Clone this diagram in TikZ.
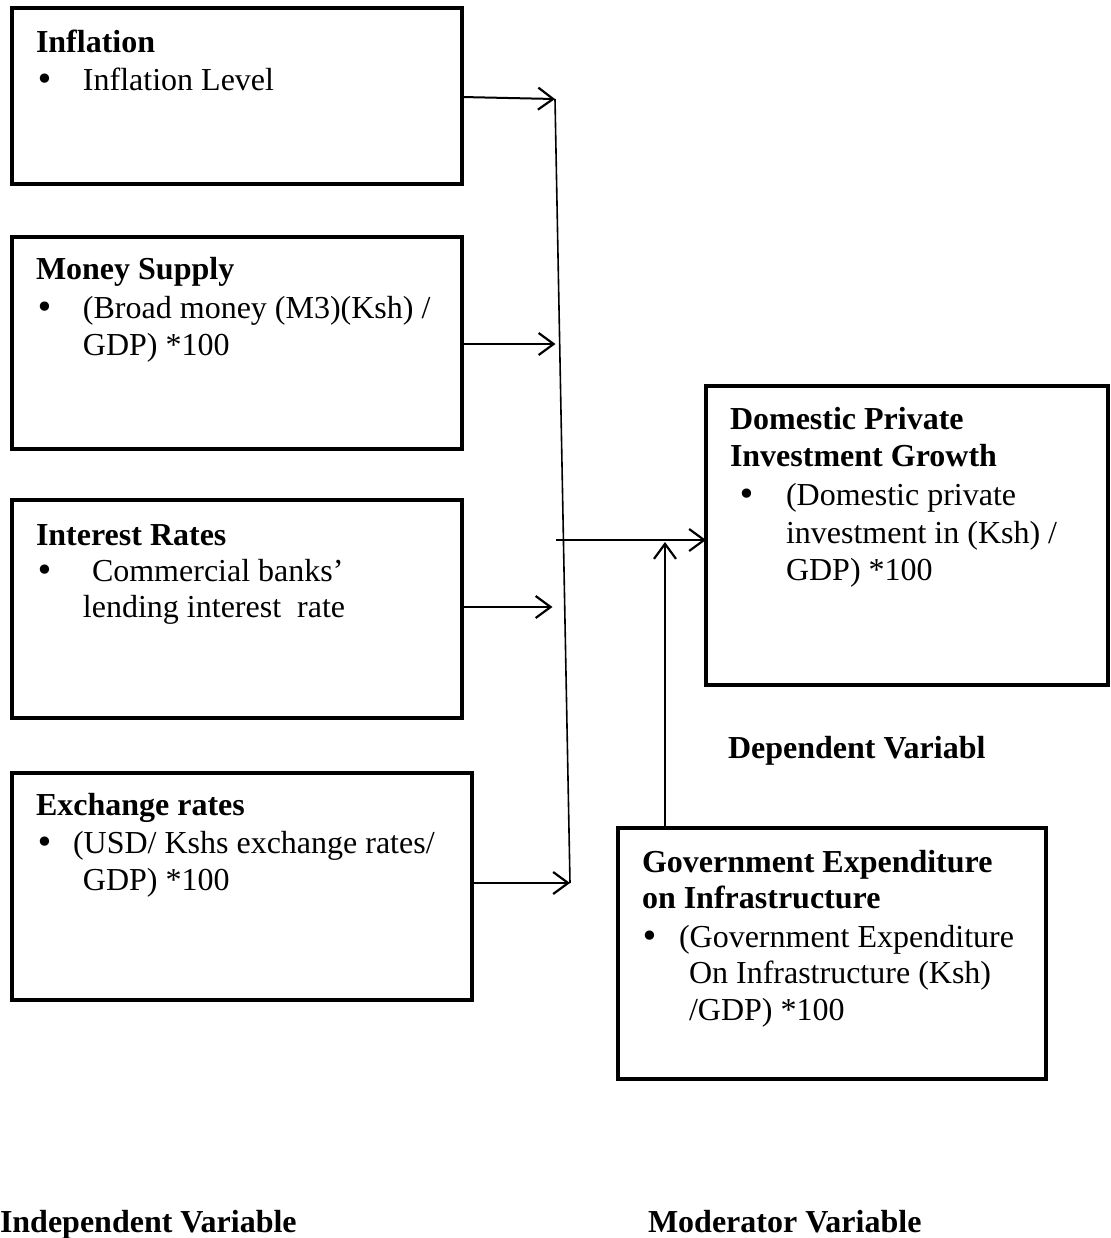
\documentclass[tikz,border=0pt]{standalone}
\usepackage{fontspec}
\setmainfont{Liberation Serif}
\newfontfamily\bulletfont{DejaVu Sans}
\usetikzlibrary{arrows.meta}
\newcommand{\bul}{{\bulletfont •}}
\begin{document}
\begin{tikzpicture}[x=0.5pt,y=-0.5pt,
  varbox/.style={draw=black,line width=2.4pt,rectangle,inner sep=0pt,outer sep=0pt},
  txt/.style={inner sep=0pt,outer sep=0pt,anchor=base west,font=\fontsize{16}{18}\selectfont},
  ttl/.style={txt,font=\fontsize{16}{18}\selectfont\bfseries},
  arr/.style={line width=1pt,-{Straight Barb[length=7.5pt,width=11pt,line width=1.1pt]}},
  trunk/.style={line width=0.8pt}]
\useasboundingbox (0,0) rectangle (1111,1238);

% boxes
\node[varbox,minimum width=225pt,minimum height=88pt] (b1) at (237,96) {};
\node[varbox,minimum width=225pt,minimum height=106pt] (b2) at (237,343) {};
\node[varbox,minimum width=225pt,minimum height=109pt] (b3) at (237,609) {};
\node[varbox,minimum width=230pt,minimum height=113.5pt] (b4) at (242,886.5) {};
\node[varbox,minimum width=201pt,minimum height=149.5pt] (dpi) at (907,535.5) {};
\node[varbox,minimum width=214pt,minimum height=125.5pt] (gov) at (832,953.5) {};

% texts box 1
\node[ttl] (t1a) at (36,52) {Inflation};
\node[txt] (t1b) at (35,90) {\bul};
\node[txt] (t1c) at (83,90) {Inflation Level};
% box 2
\node[ttl] (t2a) at (36,279) {Money Supply};
\node[txt] (t2b) at (35,318) {\bul};
\node[txt] (t2c) at (83,318) {(Broad money (M3)(Ksh) /};
\node[txt] (t2d) at (83,355) {GDP) *100};
% box 3
\node[ttl] (t3a) at (36,545) {Interest Rates};
\node[txt] (t3b) at (35,581) {\bul};
\node[txt] (t3c) at (92,581) {Commercial banks’};
\node[txt] (t3d) at (83,617) {lending interest\ \ rate};
% box 4
\node[ttl] (t4a) at (36,815) {Exchange rates};
\node[txt] (t4b) at (35,853) {\bul};
\node[txt] (t4c) at (73,853) {(USD/ Kshs exchange rates/};
\node[txt] (t4d) at (83,890) {GDP) *100};
% dependent box
\node[ttl] (t5a) at (730,429) {Domestic Private};
\node[ttl] (t5b) at (730,466) {Investment Growth};
\node[txt] (t5c) at (737,505) {\bul};
\node[txt] (t5d) at (786,505) {(Domestic private};
\node[txt] (t5e) at (786,543) {investment in (Ksh) /};
\node[txt] (t5f) at (786,580) {GDP) *100};
% moderator box
\node[ttl] (t6a) at (642,872) {Government Expenditure};
\node[ttl] (t6b) at (642,908) {on Infrastructure};
\node[txt] (t6c) at (640,947) {\bul};
\node[txt] (t6d) at (679,947) {(Government Expenditure};
\node[txt] (t6e) at (689,983) {On Infrastructure (Ksh)};
\node[txt] (t6f) at (689,1020) {/GDP) *100};

% labels
\node[ttl] (dep) at (728,758) {Dependent Variabl};
\node[ttl] (ind) at (0,1232) {Independent Variable};
\node[ttl] (mod) at (648,1232) {Moderator Variable};

% connectors
\coordinate (tr1) at (555,99);
\coordinate (tr2) at (559.5,344);
\coordinate (tr3) at (560.5,607);
\coordinate (tr4) at (570,883);
\coordinate (jn) at (556,540);
\draw[trunk] (tr1) -- (tr4);
\draw[arr] (b1.east |- 0,97) -- (tr1);
\draw[arr] (b2.east |- 0,344) -- ([xshift=-2]tr2);
\draw[arr] (b3.east |- 0,607) -- ([xshift=-4]tr3);
\draw[arr] (b4.east |- 0,883) -- (tr4);
\draw[arr] (jn) -- (dpi.west |- jn);
\draw[arr] (gov.north -| 665,0) -- (665,542);
\end{tikzpicture}
\end{document}
